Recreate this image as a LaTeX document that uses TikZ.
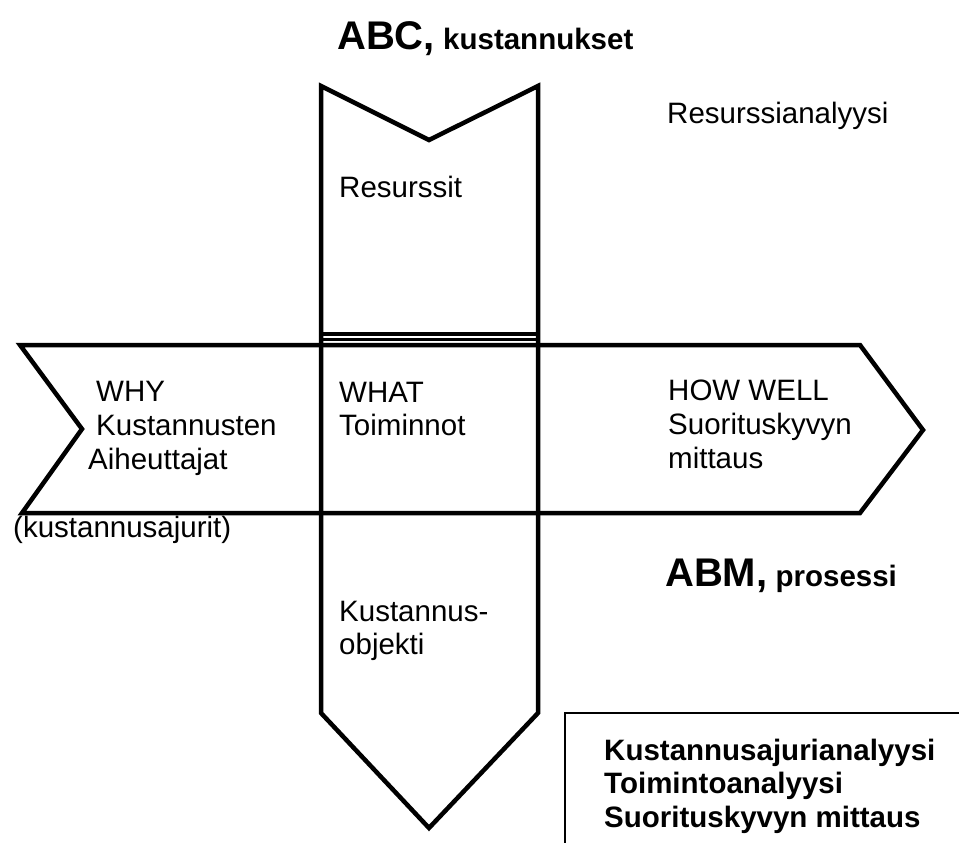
\documentclass[tikz,border=0pt]{standalone}
\usepackage{fontspec}
\setmainfont{Liberation Sans}
\begin{document}
\begin{tikzpicture}[x=1pt,y=-1pt,
  outline/.style={line width=4.5pt,line join=miter},
  txt/.style={inner sep=0pt,anchor=base west,font=\fontsize{29.5}{33}\selectfont},
  boldtxt/.style={txt,font=\fontsize{29.5}{33}\selectfont\bfseries}]
\useasboundingbox (0,0) rectangle (959,843);

% vertical arrow: notched top, pointed bottom
\draw[outline] (321,86) -- (429,140) -- (538,86) -- (538,713)
  -- (429,828) -- (321,713) -- cycle;
% divider lines closing the upper block
\draw[line width=3.5pt] (321,334) -- (538,334);
\draw[line width=2.5pt] (321,339.5) -- (538,339.5);

% horizontal arrow: notched left, pointed right
\draw[outline] (20,345) -- (860,345) -- (923,430) -- (860,513)
  -- (22,513) -- (82,429) -- cycle;

% headings
\node[txt] (abc) at (337,50) {{\fontsize{40}{44}\selectfont\bfseries ABC,} \textbf{kustannukset}};
\node[txt] (abm) at (665,586) {{\fontsize{40}{44}\selectfont\bfseries ABM,} \textbf{prosessi}};
\node[txt] (resanal) at (667,123) {Resurssianalyysi};

% upper block
\node[txt] (res) at (339,197) {Resurssit};

% centre block
\node[txt] (what1) at (339,402) {WHAT};
\node[txt] (what2) at (339,435) {Toiminnot};

% left block
\node[txt] (why1) at (96,401) {WHY};
\node[txt] (why2) at (96,435) {Kustannusten};
\node[txt] (why3) at (88,469) {Aiheuttajat};
\node[txt] (drivers) at (13,537) {(kustannusajurit)};

% right block
\node[txt] (how1) at (668,400) {HOW WELL};
\node[txt] (how2) at (668,434) {Suorituskyvyn};
\node[txt] (how3) at (668,468) {mittaus};

% lower block
\node[txt] (obj1) at (339,621) {Kustannus-};
\node[txt] (obj2) at (339,654) {objekti};

% analysis box, running off the lower right corner
\begin{scope}
\clip (0,0) rectangle (959,843);
\draw[line width=1.8pt] (565,860) -- (565,713) -- (975,713);
\end{scope}
\node[boldtxt] (an1) at (604,760) {Kustannusajurianalyysi};
\node[boldtxt] (an2) at (604,793) {Toimintoanalyysi};
\node[boldtxt] (an3) at (604,827) {Suorituskyvyn mittaus};
\end{tikzpicture}
\end{document}
